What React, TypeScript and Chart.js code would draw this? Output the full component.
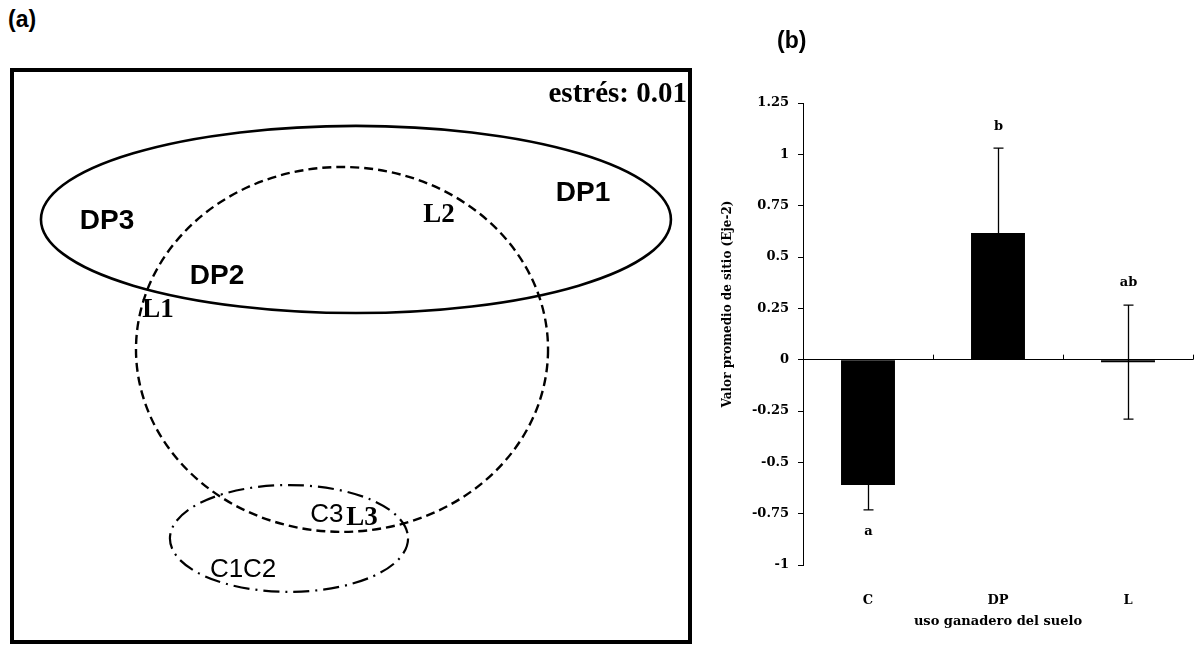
import React, { useEffect, useRef } from 'react';
import { Chart, registerables } from 'chart.js';

Chart.register(...registerables);

// ---------- Panel (a): NMDS ordination ----------
const siteNames = ['DP1', 'DP2', 'DP3', 'L1', 'L2', 'L3', 'C1', 'C2', 'C3'];
const nmdsAxis1 = [1.033, -0.596, -1.086, -0.859, 0.392, 0.049, -0.554, -0.407, -0.107];
const nmdsAxis2 = [0.717, 0.352, 0.594, 0.202, 0.621, -0.713, -0.942, -0.942, -0.7];
const groupNames = ['DP', 'L', 'C'];
const ellipseCenterX = [0.022, -0.04, -0.276];
const ellipseCenterY = [0.601, 0.029, -0.803];
const ellipseRadiusX = [1.402, 0.917, 0.53];
const ellipseRadiusY = [0.412, 0.803, 0.235];
const stressValue = 0.01;

// ---------- Panel (b): mean site value on axis 2 ----------
const landUse = ['C', 'DP', 'L'];
const meanAxis2 = [-0.61, 0.617, -0.012];
const errorAxis2 = [0.122, 0.413, 0.278];
const groupLetters = ['a', 'b', 'ab'];
const yMin = -1;
const yMax = 1.25;
const yStep = 0.25;

const SANS = '"Liberation Sans", Arial, sans-serif';
const SERIF = '"Liberation Serif", "Times New Roman", serif';
const DSERIF = '"DejaVu Serif", serif';

const groupStyle: Record<string, { dash: number[]; width: number }> = {
  DP: { dash: [], width: 2.6 },
  L: { dash: [9, 5], width: 2.4 },
  C: { dash: [16, 6, 2, 6], width: 2.2 },
};

function labelFont(name: string) {
  if (name.startsWith('DP')) return `bold 28px ${SANS}`;
  if (name.startsWith('L')) return `bold 27px ${SERIF}`;
  return `26px ${SANS}`;
}

const nmdsPlugin = {
  id: 'nmdsPlugin',
  afterDatasetsDraw(chart: any) {
    const { ctx, chartArea } = chart;
    const xs = chart.scales.x;
    const ys = chart.scales.y;
    ctx.save();
    ctx.strokeStyle = '#000';
    groupNames.forEach((g, i) => {
      const cx = xs.getPixelForValue(ellipseCenterX[i]);
      const cy = ys.getPixelForValue(ellipseCenterY[i]);
      const rx = Math.abs(xs.getPixelForValue(ellipseCenterX[i] + ellipseRadiusX[i]) - cx);
      const ry = Math.abs(ys.getPixelForValue(ellipseCenterY[i] + ellipseRadiusY[i]) - cy);
      const st = groupStyle[g];
      ctx.lineWidth = st.width;
      ctx.setLineDash(st.dash);
      ctx.beginPath();
      ctx.ellipse(cx, cy, rx, ry, 0, 0, Math.PI * 2);
      ctx.stroke();
    });
    ctx.setLineDash([]);
    const meta = chart.getDatasetMeta(0);
    ctx.fillStyle = '#000';
    ctx.textAlign = 'center';
    ctx.textBaseline = 'middle';
    siteNames.forEach((n, i) => {
      const p = meta.data[i];
      ctx.font = labelFont(n);
      ctx.fillText(n, p.x, p.y);
    });
    ctx.font = `bold 29px ${SERIF}`;
    ctx.textAlign = 'right';
    ctx.fillText(`estrés: ${stressValue.toFixed(2)}`, chartArea.right - 1, chartArea.top + 23);
    ctx.restore();
  },
};

const barPlugin = {
  id: 'barPlugin',
  afterDatasetsDraw(chart: any) {
    const { ctx, chartArea } = chart;
    const ys = chart.scales.y;
    const meta = chart.getDatasetMeta(0);
    ctx.save();
    ctx.strokeStyle = '#000';
    ctx.fillStyle = '#000';
    // category boundary tick marks on the zero line
    const y0 = ys.getPixelForValue(0);
    ctx.lineWidth = 1;
    const w = chartArea.right - chartArea.left;
    for (let i = 1; i <= landUse.length; i++) {
      const x = Math.round(chartArea.left + (i * w) / landUse.length) + 0.5;
      ctx.beginPath();
      ctx.moveTo(x, y0 - 5);
      ctx.lineTo(x, y0);
      ctx.stroke();
    }
    // error bars and letters
    meanAxis2.forEach((m, i) => {
      const x = Math.round(meta.data[i].x) + 0.5;
      const yt = ys.getPixelForValue(m + errorAxis2[i]);
      const yb = ys.getPixelForValue(m - errorAxis2[i]);
      ctx.lineWidth = 1.3;
      ctx.beginPath();
      ctx.moveTo(x, yt);
      ctx.lineTo(x, yb);
      ctx.moveTo(x - 5, yt);
      ctx.lineTo(x + 5, yt);
      ctx.moveTo(x - 5, yb);
      ctx.lineTo(x + 5, yb);
      ctx.stroke();
      const below = m < 0 && -m > errorAxis2[i];
      ctx.font = `bold 13px ${DSERIF}`;
      ctx.textAlign = 'center';
      ctx.textBaseline = 'middle';
      ctx.fillText(groupLetters[i], x, below ? yb + 22 : yt - 22);
    });
    // axis titles
    ctx.textAlign = 'center';
    ctx.textBaseline = 'middle';
    ctx.font = `bold 13px ${DSERIF}`;
    ctx.fillText('uso ganadero del suelo', (chartArea.left + chartArea.right) / 2, 622);
    ctx.font = `bold 12px ${DSERIF}`;
    ctx.translate(28, 304);
    ctx.rotate(-Math.PI / 2);
    ctx.fillText('Valor promedio de sitio (Eje-2)', 0, 0);
    ctx.restore();
  },
};

export default function App() {
  const refA = useRef<HTMLCanvasElement>(null);
  const refB = useRef<HTMLCanvasElement>(null);

  useEffect(() => {
    const chartA = new Chart(refA.current as HTMLCanvasElement, {
      type: 'scatter',
      data: {
        datasets: [
          {
            data: siteNames.map((_, i) => ({ x: nmdsAxis1[i], y: nmdsAxis2[i] })),
            pointRadius: 0,
            pointHoverRadius: 0,
          },
        ],
      },
      options: {
        responsive: false,
        maintainAspectRatio: false,
        animation: false,
        events: [],
        layout: { padding: 0 },
        plugins: { legend: { display: false }, tooltip: { enabled: false } },
        scales: {
          x: { type: 'linear', min: -1.5, max: 1.5, display: false },
          y: { type: 'linear', min: -1.25, max: 1.25, display: false },
        },
      },
      plugins: [nmdsPlugin],
    });

    const chartB = new Chart(refB.current as HTMLCanvasElement, {
      type: 'bar',
      data: {
        labels: landUse,
        datasets: [
          {
            data: meanAxis2,
            backgroundColor: '#000',
            borderWidth: 0,
            barPercentage: 0.415,
            categoryPercentage: 1,
          },
        ],
      },
      options: {
        responsive: false,
        maintainAspectRatio: false,
        animation: false,
        events: [],
        layout: { padding: { top: 103, right: 4, bottom: 0, left: 0 } },
        plugins: { legend: { display: false }, tooltip: { enabled: false } },
        scales: {
          x: {
            type: 'category',
            offset: true,
            grid: { display: false },
            border: { display: false },
            ticks: { color: '#000', font: { family: DSERIF, size: 13, weight: 'bold' }, padding: 20 },
            afterFit: (s: any) => {
              s.height = 84;
            },
          },
          y: {
            type: 'linear',
            min: yMin,
            max: yMax,
            ticks: {
              stepSize: yStep,
              color: '#000',
              padding: 9,
              font: { family: DSERIF, size: 13, weight: 'bold' },
              callback: (v: any) => String(Number(Number(v).toFixed(2))),
            },
            grid: {
              drawOnChartArea: true,
              color: (c: any) => (c.tick && Math.abs(c.tick.value) < 1e-9 ? '#000' : 'rgba(0,0,0,0)'),
              tickColor: '#000',
              tickLength: 5,
              lineWidth: 1,
            },
            border: { display: true, color: '#000', width: 1 },
            afterFit: (s: any) => {
              s.width = 103;
            },
          },
        },
      },
      plugins: [barPlugin],
    });

    return () => {
      chartA.destroy();
      chartB.destroy();
    };
  }, []);

  const panelLabel: React.CSSProperties = {
    position: 'absolute',
    font: `bold 23px ${SANS}`,
    lineHeight: '24px',
    color: '#000',
  };

  return (
    <div
      style={{
        position: 'absolute',
        left: 0,
        top: 0,
        width: 1197,
        height: 649,
        background: '#fff',
        overflow: 'hidden',
      }}
    >
      <div style={{ ...panelLabel, left: 8, top: 7 }}>(a)</div>
      <div
        style={{
          position: 'absolute',
          left: 10,
          top: 68,
          width: 674,
          height: 568,
          border: '4px solid #000',
        }}
      >
        <canvas ref={refA} width={674} height={568} style={{ display: 'block', width: 674, height: 568 }} />
      </div>
      <canvas
        ref={refB}
        width={497}
        height={649}
        style={{ position: 'absolute', left: 700, top: 0, width: 497, height: 649 }}
      />
      <div style={{ ...panelLabel, left: 777, top: 28 }}>(b)</div>
    </div>
  );
}
